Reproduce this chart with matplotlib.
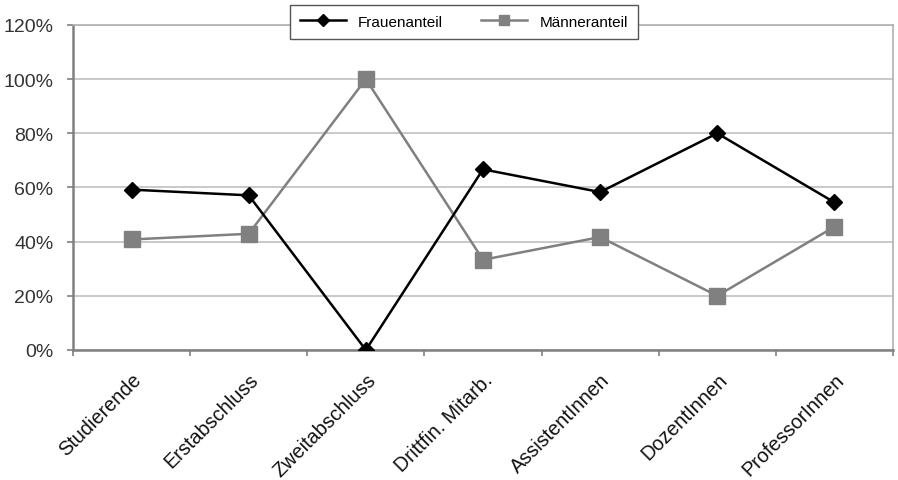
import matplotlib.pyplot as plt
import numpy as np
from matplotlib.ticker import FixedLocator, PercentFormatter

plt.rcParams['font.family'] = ['Liberation Sans', 'DejaVu Sans']

# Anteile je Gruppe in Prozent
gruppen = ["Studierende", "Erstabschluss", "Zweitabschluss", "Drittfin. Mitarb.",
           "AssistentInnen", "DozentInnen", "ProfessorInnen"]
frauen = [59.2, 57.1, 0.0, 66.7, 58.3, 80.0, 54.5]
maenner = [40.8, 42.9, 100.0, 33.3, 41.7, 20.0, 45.5]

fig = plt.figure(figsize=(8.98, 4.81), dpi=100)
ax = fig.add_axes([0.0813, 0.2703, 0.9131, 0.6757])

x = np.arange(len(gruppen))
ax.plot(x, frauen, color='black', lw=1.8, marker='D', ms=8.5, zorder=4, label='Frauenanteil')
ax.plot(x, maenner, color='#808080', lw=1.8, marker='s', ms=11, zorder=3, label='Männeranteil')

ax.set_xlim(-0.5, len(gruppen) - 0.5)
ax.set_ylim(0, 120)
ax.set_yticks(np.arange(0, 121, 20))
ax.yaxis.set_major_formatter(PercentFormatter(decimals=0))
ax.grid(axis='y', color='#c0c0c0', lw=1.2, zorder=0)

# Teilstriche zwischen den Kategorien, Beschriftung in der Mitte
ax.xaxis.set_major_locator(FixedLocator(np.arange(-0.5, len(gruppen), 1.0)))
ax.xaxis.set_major_formatter(plt.NullFormatter())
ax.set_xticks(x, minor=True)
ax.set_xticklabels(gruppen, minor=True, rotation=45, ha='right', va='top',
                   rotation_mode='anchor', fontsize=14.3, color='#111111')
ax.tick_params(axis='x', which='minor', length=0, pad=14)
ax.tick_params(axis='x', which='major', length=4, color='#808080', width=1.2)
ax.tick_params(axis='y', length=4, color='#808080', width=1.2, labelsize=14,
               labelcolor='#333333', pad=10)

for s in ['left', 'bottom']:
    ax.spines[s].set_color('#808080')
    ax.spines[s].set_linewidth(1.8)
for s in ['top', 'right']:
    ax.spines[s].set_color('#b0b0b0')
    ax.spines[s].set_linewidth(1.2)

leg = fig.legend(loc='center', bbox_to_anchor=(0.5167, 0.953), ncol=2, fontsize=11,
                 frameon=True, fancybox=False, edgecolor='#555555', framealpha=1,
                 handlelength=3, columnspacing=2.5, borderpad=0.65, markerscale=0.7)
leg.get_frame().set_linewidth(1.0)

fig.savefig('out.png', dpi=100)
